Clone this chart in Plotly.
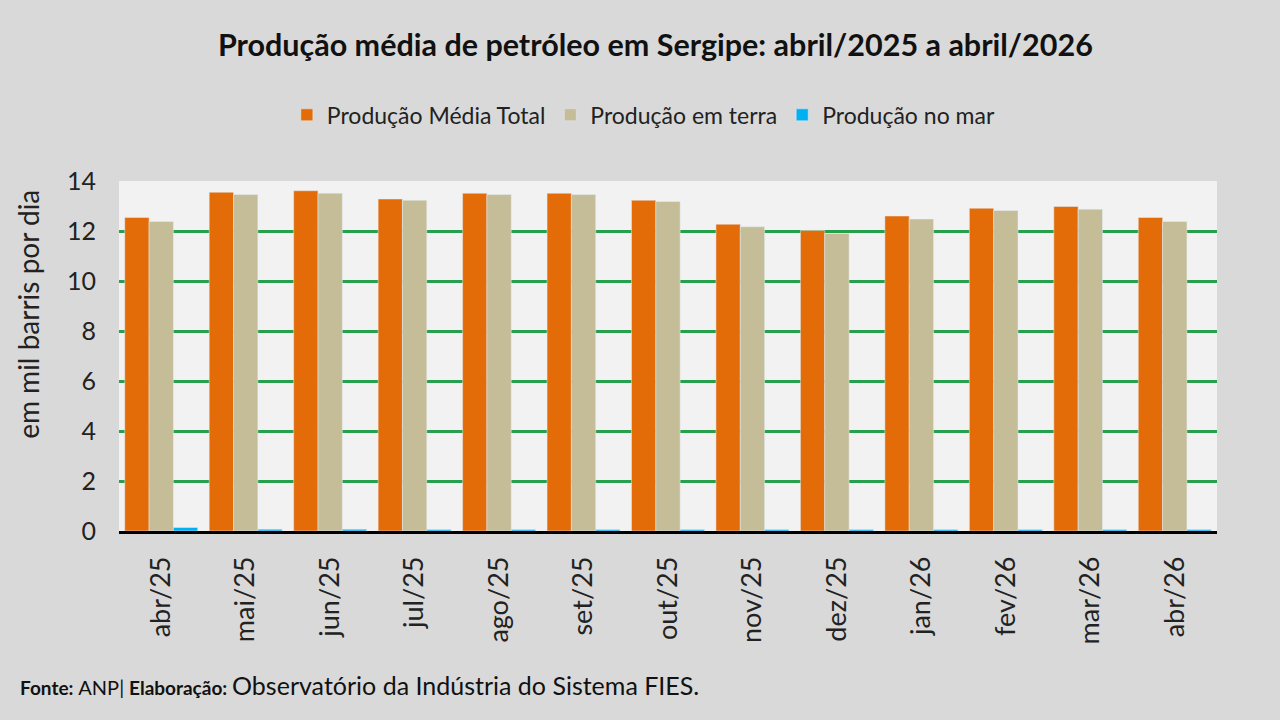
import plotly.graph_objects as go

categories = ["abr/25", "mai/25", "jun/25", "jul/25", "ago/25", "set/25", "out/25",
              "nov/25", "dez/25", "jan/26", "fev/26", "mar/26", "abr/26"]
total = [12.54, 13.55, 13.61, 13.28, 13.51, 13.51, 13.23, 12.27, 12.02, 12.60, 12.91, 12.98, 12.54]
terra = [12.38, 13.46, 13.51, 13.23, 13.46, 13.46, 13.18, 12.17, 11.90, 12.48, 12.82, 12.87, 12.38]
mar = [0.14, 0.07, 0.07, 0.06, 0.06, 0.06, 0.06, 0.06, 0.06, 0.06, 0.06, 0.06, 0.06]
yticks = [0, 2, 4, 6, 8, 10, 12, 14]

FONT = "Lato"

fig = go.Figure()
fig.add_trace(go.Bar(x=categories, y=total, name="Produção Média Total", marker_color="#e36c09"))
fig.add_trace(go.Bar(x=categories, y=terra, name="Produção em terra", marker_color="#c4bd97"))
fig.add_trace(go.Bar(x=categories, y=mar, name="Produção no mar", marker_color="#00b0f0"))

fig.update_layout(
    width=1280, height=720,
    paper_bgcolor="#d9d9d9", plot_bgcolor="#f2f2f2",
    margin=dict(l=119, r=63, t=181, b=189),
    barmode="group", bargap=0.136, bargroupgap=0,
    font=dict(family=FONT, color="#1a1a1a"),
    title=dict(text="<b>Produção média de petróleo em Sergipe: abril/2025 a abril/2026</b>",
               x=0.512, xanchor="center", y=0.937, yanchor="middle",
               font=dict(size=30.5, family=FONT, color="#111")),
    legend=dict(orientation="h", x=0.478, xanchor="center", y=1.189, yanchor="middle",
                font=dict(size=23, family=FONT, color="#222"), bgcolor="rgba(0,0,0,0)",
                itemwidth=30, traceorder="normal"),
    showlegend=True,
)
fig.update_yaxes(range=[0, 14], tickvals=yticks, showgrid=True, gridcolor="#27a04e", gridwidth=2.5,
                 zeroline=False, showline=False, ticks="", tickfont=dict(size=25, color="#222"),
                 ticklabelstandoff=22)
fig.update_xaxes(showline=True, linecolor="#000", linewidth=2.5, tickangle=-90, ticks="",
                 tickfont=dict(size=27, color="#222"), ticklabelstandoff=12)

fig.add_annotation(
    text="em mil barris por dia", textangle=-90,
    xref="paper", yref="paper", x=-0.083, y=0.62, xanchor="center", yanchor="middle",
    showarrow=False, font=dict(size=28, family=FONT, color="#222"))

fig.add_annotation(
    text="<b>Fonte:</b> <span style='font-size:20px'>ANP|</span> <b>Elaboração:</b> "
         "<span style='font-size:25px'>Observatório da Indústria do Sistema FIES.</span>",
    xref="paper", yref="paper", x=-0.092, y=-0.44, xanchor="left", yanchor="middle",
    showarrow=False, font=dict(size=19, family=FONT, color="#111"), align="left")

fig.write_html("out.html", config={"displayModeBar": False},
               post_script="document.body.style.margin='0';")
